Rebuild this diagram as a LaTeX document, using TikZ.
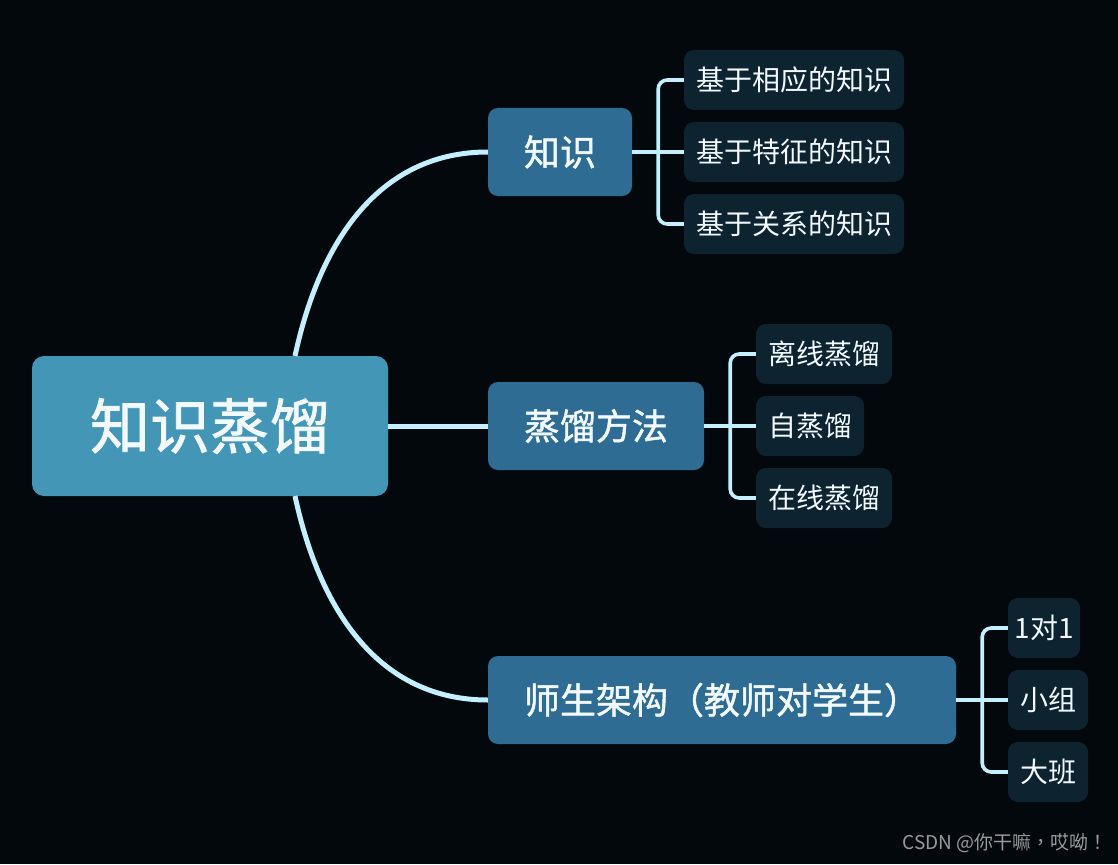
\documentclass[tikz,border=0pt]{standalone}
\usepackage{fontspec}
\setmainfont{Noto Sans CJK SC}
\newfontfamily\medfont[FakeBold=1.3]{Noto Sans CJK SC}
\newfontfamily\wmfont{Noto Sans CJK TC}
\usetikzlibrary{calc}
\definecolor{bgc}{HTML}{03080C}
\definecolor{rootc}{HTML}{4496B7}
\definecolor{topicc}{HTML}{2E6C93}
\definecolor{leafc}{HTML}{0E2330}
\definecolor{linkc}{HTML}{C3EFFF}
\definecolor{txtc}{HTML}{F2FAFF}
\definecolor{wmc}{HTML}{9A9A9A}
\tikzset{
  rootbox/.style={fill=rootc, rounded corners=12pt, inner sep=0pt, text=txtc,
    minimum width=356pt, minimum height=140pt, font=\medfont\fontsize{60}{60}\selectfont},
  topicbox/.style={fill=topicc, rounded corners=10pt, inner sep=0pt, text=txtc,
    minimum height=88pt, font=\medfont\fontsize{36}{36}\selectfont},
  leafbox/.style={fill=leafc, rounded corners=10pt, inner sep=0pt, text=txtc,
    minimum height=60pt, font=\fontsize{28}{28}\selectfont},
  mainlink/.style={draw=linkc, line width=5pt},
  sublink/.style={draw=linkc, line width=3.6pt, rounded corners=9pt},
}
\begin{document}
\begin{tikzpicture}[x=1pt,y=-1pt]
\fill[bgc] (0,0) rectangle (1118,864);
\useasboundingbox (0,0) rectangle (1118,864);

\coordinate (rt) at (295,356);
\coordinate (rb) at (295,496);

% nodes
\node[rootbox] (root) at (210,426) {知识蒸馏};

\node[topicbox, minimum width=144pt] (t1) at (560,152) {知识};
\node[topicbox, minimum width=216pt] (t2) at (596,426) {蒸馏方法};
\node[topicbox, minimum width=468pt] (t3) at (722,700) {师生架构（教师对学生）};

\node[leafbox, minimum width=220pt] (a1) at (794,80) {基于相应的知识};
\node[leafbox, minimum width=220pt] (a2) at (794,152) {基于特征的知识};
\node[leafbox, minimum width=220pt] (a3) at (794,224) {基于关系的知识};

\node[leafbox, minimum width=136pt] (b1) at (824,354) {离线蒸馏};
\node[leafbox, minimum width=108pt] (b2) at (810,426) {自蒸馏};
\node[leafbox, minimum width=136pt] (b3) at (824,498) {在线蒸馏};

\node[leafbox, minimum width=72pt] (c1) at (1044,628) {1对1};
\node[leafbox, minimum width=80pt] (c2) at (1048,700) {小组};
\node[leafbox, minimum width=80pt] (c3) at (1048,772) {大班};

% main links
\draw[mainlink] (rt) .. controls (320,240) and (380,152) .. (t1.west);
\draw[mainlink] (root.east) -- (t2.west);
\draw[mainlink] (rb) .. controls (320,612) and (380,700) .. (t3.west);

% sub links
\draw[sublink] (t1.east) -- (a2.west);
\draw[sublink] (a1.west) -| ($(t1.east)+(26,0)$) |- (a3.west);
\draw[sublink] (t2.east) -- (b2.west);
\draw[sublink] (b1.west) -| ($(t2.east)+(26,0)$) |- (b3.west);
\draw[sublink] (t3.east) -- (c2.west);
\draw[sublink] (c1.west) -| ($(t3.east)+(26,0)$) |- (c3.west);

% watermark
\node[anchor=east, text=wmc, inner sep=0pt, font=\wmfont\fontsize{19}{19}\selectfont] (wm) at (1108,843) {CSDN @你干嘛，哎呦！};
\end{tikzpicture}
\end{document}
